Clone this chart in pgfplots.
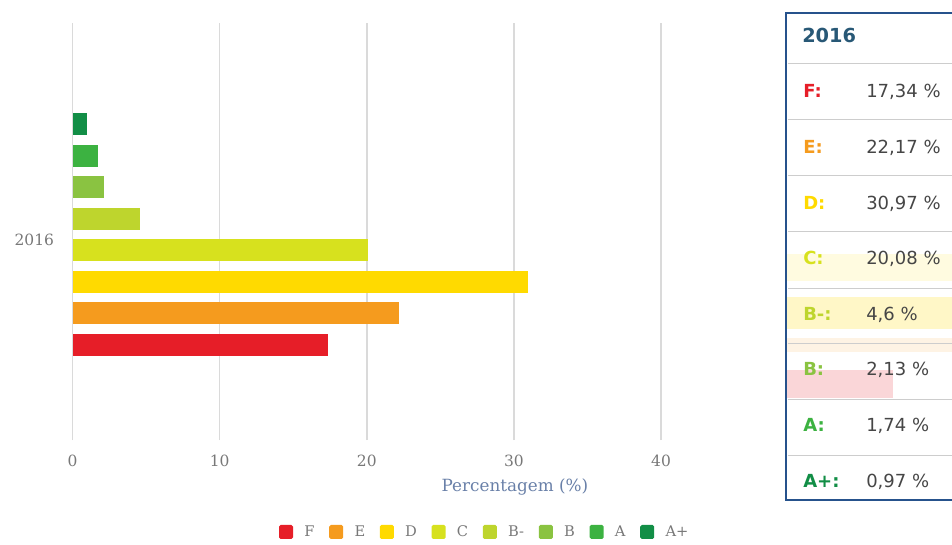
\documentclass[border=0pt]{standalone}
\usepackage{fontspec}
\setmainfont{DejaVu Serif}
\newfontfamily\tipfont{DejaVu Sans}
\usepackage{pgfplots}
\pgfplotsset{compat=1.18}

% energy-rating palette
\definecolor{gF}{RGB}{230,30,40}
\definecolor{gE}{RGB}{245,155,30}
\definecolor{gD}{RGB}{255,218,0}
\definecolor{gC}{RGB}{215,225,30}
\definecolor{gBm}{RGB}{190,213,45}
\definecolor{gB}{RGB}{138,195,65}
\definecolor{gA}{RGB}{60,178,65}
\definecolor{gAp}{RGB}{18,142,70}
\definecolor{gridgray}{RGB}{218,218,218}
\definecolor{ticktext}{RGB}{120,120,120}
\definecolor{titletext}{RGB}{105,128,168}
\definecolor{tipborder}{RGB}{38,82,140}
\definecolor{tiphead}{RGB}{40,88,118}
\definecolor{tipsep}{RGB}{205,205,205}
\definecolor{tipvalue}{RGB}{70,70,70}

\begin{document}
\begin{tikzpicture}[x=0.75pt,y=-0.75pt]
\useasboundingbox (0,0) rectangle (952,545);
\begin{axis}[
  at={(54.375pt,-330pt)}, anchor=south west,
  scale only axis, width=441.4pt, height=312.75pt,
  xmin=0, xmax=40, ymin=-3.03, ymax=10.21,
  xbar, bar width=0.7,
  clip=false,
  axis line style={draw=none},
  major tick style={draw=none},
  xtick={0,10,20,30,40},
  xmajorgrids, grid style={color=gridgray, line width=1.1pt},
  ytick={3.32}, yticklabels={2016},
  /pgf/number format/assume math mode=true,
  xticklabel style={font=\fontsize{11.6}{13}\selectfont, text=ticktext, inner sep=0pt, yshift=-10.7pt},
  yticklabel style={font=\fontsize{11.6}{13}\selectfont, text=ticktext, inner sep=0pt, xshift=-9.4pt},
  xlabel={Percentagem (\%)},
  every axis x label/.style={at={(rel axis cs:0.7517,0)}, anchor=center, yshift=-35.25pt,
    font=\fontsize{12.6}{14}\selectfont, text=titletext},
  legend columns=-1,
  legend style={at={(rel axis cs:0.701,-0.2206)}, anchor=center, draw=none, fill=none,
    font=\fontsize{11}{13}\selectfont, text=ticktext,
    /tikz/every odd column/.append style={column sep=6.5pt},
    /tikz/every even column/.append style={column sep=9pt}},
  legend image code/.code={\fill[#1, draw=none, rounded corners=1.2pt] (0pt,-5.25pt) rectangle (10.5pt,5.25pt);},
]
\addplot[fill=gF,  draw=none, bar shift=0pt] coordinates {(17.34,0)};
\addplot[fill=gE,  draw=none, bar shift=0pt] coordinates {(22.17,1)};
\addplot[fill=gD,  draw=none, bar shift=0pt] coordinates {(30.97,2)};
\addplot[fill=gC,  draw=none, bar shift=0pt] coordinates {(20.08,3)};
\addplot[fill=gBm, draw=none, bar shift=0pt] coordinates {(4.6,4)};
\addplot[fill=gB,  draw=none, bar shift=0pt] coordinates {(2.13,5)};
\addplot[fill=gA,  draw=none, bar shift=0pt] coordinates {(1.74,6)};
\addplot[fill=gAp, draw=none, bar shift=0pt] coordinates {(0.97,7)};
\legend{F,E,D,C,B-,B,A,A+}
\end{axis}

% tooltip panel
\fill[white] (786,13) rectangle (1000,500);
\fill[gD!12] (787,254) rectangle (1000,281);
\fill[gD!22] (787,297) rectangle (1000,329);
\fill[gE!12] (787,338) rectangle (1000,352);
\fill[gF!18] (787,370) rectangle (893,398);
\foreach \yy in {64,120,176,232,288,343,399,455}
  \draw[tipsep, line width=0.75pt] (788,\yy) -- (1000,\yy);
\draw[tipborder, line width=1.9pt] (786,13) rectangle (1000,500);

\tikzset{tiplab/.style={anchor=west, inner sep=0pt, text height=0.73em, text depth=0pt,
    font=\tipfont\bfseries\fontsize{13.5}{15}\selectfont},
  tipval/.style={anchor=west, inner sep=0pt, text height=0.73em, text depth=0pt,
    font=\tipfont\fontsize{13.5}{15}\selectfont, text=tipvalue}}
\node[tiplab, text=tiphead, font=\tipfont\bfseries\fontsize{14.5}{16}\selectfont] at (802,38) {2016};
\node[tiplab, text=gF]  at (803,93)  {F:};   \node[tipval] at (866,93)  {17,34 \%};
\node[tiplab, text=gE]  at (803,149) {E:};   \node[tipval] at (866,149) {22,17 \%};
\node[tiplab, text=gD]  at (803,205) {D:};   \node[tipval] at (866,205) {30,97 \%};
\node[tiplab, text=gC]  at (803,260) {C:};   \node[tipval] at (866,260) {20,08 \%};
\node[tiplab, text=gBm] at (803,316) {B-:};  \node[tipval] at (866,316) {4,6 \%};
\node[tiplab, text=gB]  at (803,371) {B:};   \node[tipval] at (866,371) {2,13 \%};
\node[tiplab, text=gA]  at (803,427) {A:};   \node[tipval] at (866,427) {1,74 \%};
\node[tiplab, text=gAp] at (803,483) {A+:};  \node[tipval] at (866,483) {0,97 \%};
\end{tikzpicture}
\end{document}
